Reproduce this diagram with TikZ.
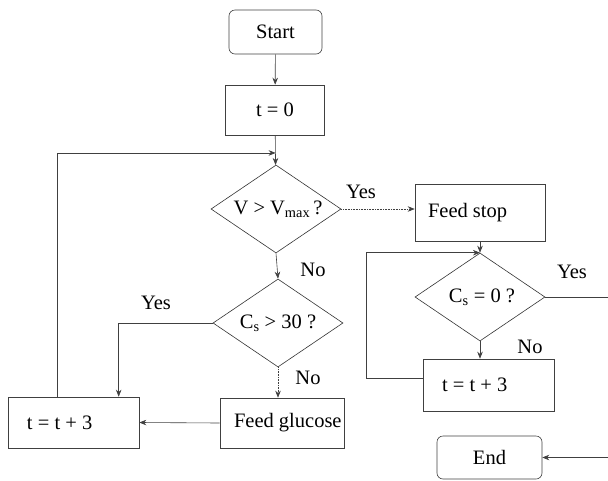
\documentclass[tikz,border=0pt]{standalone}
\usepackage{fontspec}
\setmainfont{Liberation Serif}
\usetikzlibrary{shapes.geometric,arrows.meta,calc}
\tikzset{
  txt/.style={font=\fontsize{20.5pt}{24pt}\selectfont},
  box/.style={txt,draw=black!75,line width=0.6pt,rectangle,inner sep=0pt},
  term/.style={box,rounded corners=6pt},
  dec/.style={txt,draw=black!80,line width=0.6pt,diamond,inner sep=0pt,minimum width=130pt,minimum height=88pt},
  conn/.style={draw=black!75,line width=0.6pt,-{Stealth[length=7pt,width=5.5pt]}},
  line/.style={draw=black!75,line width=0.6pt},
  lbl/.style={txt}
}
\begin{document}
\begin{tikzpicture}[x=1pt,y=-1pt]
\useasboundingbox (0,0) rectangle (608,480);
% nodes
\node[term,minimum width=93pt,minimum height=44pt] (start) at (275.5,32) {Start};
\node[box,minimum width=99pt,minimum height=50pt] (t0) at (275,110) {t = 0};
\node[dec] (d1) at (276,209) {\makebox[0pt]{\hspace{4pt}V > V\textsubscript{max}\hspace{-2pt} ?}};
\node[box,minimum width=130pt,minimum height=57pt] (fs) at (480,212.5) {\makebox[130pt][l]{\hspace{13pt}Feed stop}};
\node[dec] (d2) at (278,323) {\makebox[0pt]{C\textsubscript{s} > 30 ?}};
\node[box,minimum width=124pt,minimum height=50pt] (fg) at (282,423) {\makebox[124pt][l]{\hspace{14pt}Feed glucose}};
\node[box,minimum width=131pt,minimum height=51pt] (tl) at (73.5,422.5) {\makebox[131pt][l]{\hspace{19pt}t = t + 3}};
\node[dec] (d3) at (480,297) {\makebox[0pt]{\hspace{4pt}C\textsubscript{s} = 0 ?}};
\node[box,minimum width=131pt,minimum height=52pt] (tr) at (488.5,385) {\makebox[131pt][l]{\hspace{19pt}t = t + 3}};
\node[term,minimum width=105pt,minimum height=43pt] (end) at (489.5,457.5) {End};
\coordinate (r1) at (608,297);
\coordinate (r2) at (608,457.5);
% labels
\node[lbl] (y1) at (361,192) {Yes};
\node[lbl] (n1) at (313,270) {No};
\node[lbl] (y2) at (156,303) {Yes};
\node[lbl] (n2) at (308,378) {No};
\node[lbl] (y3) at (572,272) {Yes};
\node[lbl] (n3) at (530,347) {No};
% connectors
\draw[conn] (start) -- (t0);
\draw[conn] (t0) -- (d1);
\coordinate (j1) at ($(t0.south)!0.6!(d1.north)$);
\draw[conn] ([xshift=50pt]tl.north west) |- (j1);
\draw[conn,densely dotted] (d1.east) -- (fs.west |- d1.east);
\draw[conn] (d1.south) -- (d2.north);
\draw[conn] (d2.west) -| ([xshift=111pt]tl.north west);
\draw[conn,densely dotted] (d2.south) -- (fg.north -| d2.south);
\draw[conn] (fg.west) -- (tl.east);
\draw[conn] (fs.south) -- (d3.north);
\draw[conn] (d3.south) -- (d3.south |- tr.north);
\draw[conn] ([yshift=7pt]tr.west) -- ++(-56,0) |- (d3.north);
\draw[line] (d3.east) -- (r1);
\draw[conn] (r2) -- (end.east);
\end{tikzpicture}
\end{document}
